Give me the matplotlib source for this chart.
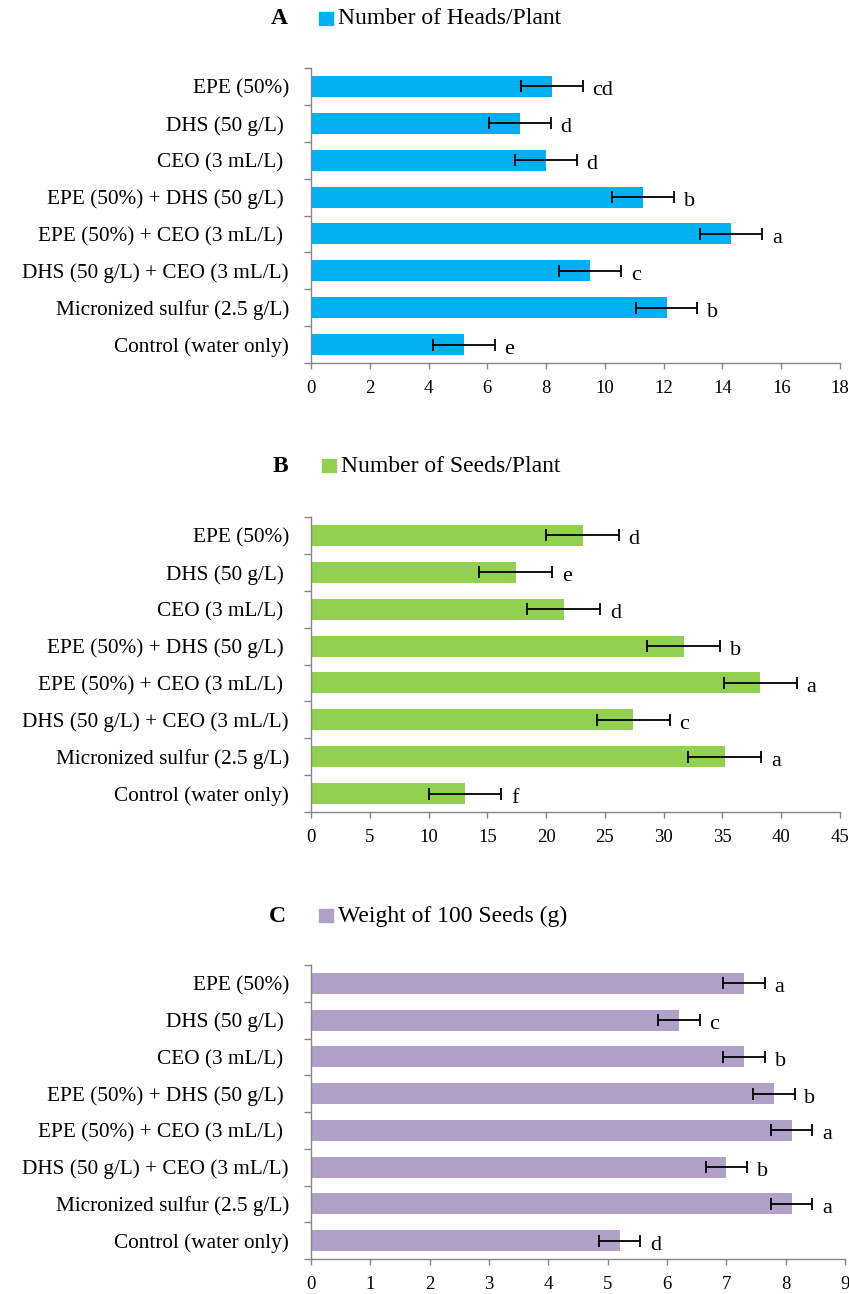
import numpy as np
import matplotlib.pyplot as plt
from matplotlib.patches import Rectangle

plt.rcParams['font.family'] = ['Liberation Serif', 'DejaVu Serif']

treatments = ['EPE (50%)', 'DHS (50 g/L) ', 'CEO (3 mL/L) ', 'EPE (50%) + DHS (50 g/L) ',
              'EPE (50%) + CEO (3 mL/L) ', 'DHS (50 g/L) + CEO (3 mL/L)',
              'Micronized sulfur (2.5 g/L)', 'Control (water only)']

heads = [8.2, 7.1, 8.0, 11.3, 14.3, 9.5, 12.1, 5.2]
heads_err = [1.05] * 8
heads_let = ['cd', 'd', 'd', 'b', 'a', 'c', 'b', 'e']

seeds = [23.1, 17.4, 21.5, 31.7, 38.2, 27.4, 35.2, 13.1]
seeds_err = [3.1] * 8
seeds_let = ['d', 'e', 'd', 'b', 'a', 'c', 'a', 'f']

weight = [7.3, 6.2, 7.3, 7.8, 8.1, 7.0, 8.1, 5.2]
weight_err = [0.35] * 8
weight_let = ['a', 'c', 'b', 'b', 'a', 'b', 'a', 'd']

W, H = 849, 1294


def box(x0, x1, top, bottom):
    return [x0 / W, 1 - bottom / H, (x1 - x0) / W, (bottom - top) / H]


panels = [
    ('A', 'Number of Heads/Plant', heads, heads_err, heads_let, '#00B0F0', 18, 2,
     box(311, 840, 68, 363), 279, 319, 19),
    ('B', 'Number of Seeds/Plant', seeds, seeds_err, seeds_let, '#92D050', 45, 5,
     box(311, 840, 517, 812), 280, 322, 466),
    ('C', 'Weight of 100 Seeds (g)', weight, weight_err, weight_let, '#B1A0C7', 9, 1,
     box(311, 845, 965, 1259), 277, 319, 916),
]

fig = plt.figure(figsize=(W / 100, H / 100), dpi=100)
axis_col = '#868686'

for letter, name, vals, errs, lets, col, xmax, step, pos, lx, sx, ty in panels:
    ax = fig.add_axes(pos)
    y = np.arange(len(vals))[::-1]
    ax.barh(y, vals, height=0.57, color=col, zorder=2)
    ax.errorbar(vals, y, xerr=errs, fmt='none', ecolor='black', elinewidth=1.3,
                capsize=4, capthick=1.3, zorder=3)
    for v, e, yy, t in zip(vals, errs, y, lets):
        ax.annotate(t, (v + e, yy), xytext=(7, -6.5), textcoords='offset points',
                    va='baseline', ha='left', fontsize=16)
    ax.set_xlim(0, xmax)
    ax.set_ylim(-0.5, len(vals) - 0.5)
    ax.set_xticks(np.arange(0, xmax + 0.01, step))
    ax.set_yticks(y)
    ax.set_yticklabels(treatments)
    ax.set_yticks(np.arange(-0.5, len(vals), 1), minor=True)
    ax.tick_params(axis='y', which='major', length=0, labelsize=15.3, pad=16)
    ax.tick_params(axis='y', which='minor', length=5, width=1, color=axis_col,
                   direction='out')
    ax.tick_params(axis='x', length=4, width=1, color=axis_col, labelsize=13.5, pad=8)
    for s in ['top', 'right']:
        ax.spines[s].set_visible(False)
    for s in ['left', 'bottom']:
        ax.spines[s].set_color(axis_col)
        ax.spines[s].set_linewidth(1.0)

    # panel letter and legend
    fig.text(lx / W, 1 - ty / H, letter, fontsize=17, fontweight='bold',
             ha='center', va='center')
    fig.patches.append(Rectangle((sx / W, 1 - (ty + 6) / H), 14 / W, 13 / H,
                                 transform=fig.transFigure, color=col))
    fig.text((sx + 19) / W, 1 - ty / H, name, fontsize=17, ha='left', va='center')

fig.savefig('out.png', dpi=100)
